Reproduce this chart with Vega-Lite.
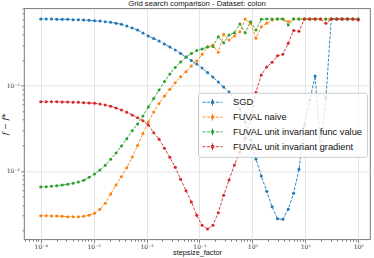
{
"$schema": "https://vega.github.io/schema/vega-lite/v6.json",
"width": 346, "height": 231,
"autosize": "none",
"padding": {"left": 24, "top": 8.3, "right": 4, "bottom": 19},
"background": "white",
"config": {
 "view": {"stroke": "#555555", "strokeWidth": 0.8},
 "axis": {"domain": false, "labelFont": "DejaVu Serif", "labelFontSize": 6, "labelColor": "#333333", "tickColor": "#555555", "tickWidth": 0.7, "gridColor": "#dddddd", "gridWidth": 0.8, "titleFont": "Liberation Sans", "titleFontWeight": "normal", "titleColor": "#111111", "labelOverlap": false, "labelFlush": false}
},
"title": {"text": "Grid search comparison - Dataset: colon", "font": "Liberation Sans", "fontSize": 7.7, "fontWeight": "normal", "anchor": "middle", "offset": 1.5, "baseline": "bottom", "dy": 11.5, "color": "#111111"},
"data": {"values": [
{"method":"SGD","stepsize":0.0001,"gap":0.605},
{"method":"SGD","stepsize":0.00012638,"gap":0.605},
{"method":"SGD","stepsize":0.00015973,"gap":0.605},
{"method":"SGD","stepsize":0.00020187,"gap":0.6004},
{"method":"SGD","stepsize":0.00025514,"gap":0.6004},
{"method":"SGD","stepsize":0.00032246,"gap":0.6004},
{"method":"SGD","stepsize":0.00040754,"gap":0.594},
{"method":"SGD","stepsize":0.00051506,"gap":0.594},
{"method":"SGD","stepsize":0.00065097,"gap":0.5892},
{"method":"SGD","stepsize":0.00082271,"gap":0.5844},
{"method":"SGD","stepsize":0.0010398,"gap":0.5782},
{"method":"SGD","stepsize":0.0013141,"gap":0.5735},
{"method":"SGD","stepsize":0.0016608,"gap":0.5628},
{"method":"SGD","stepsize":0.0020991,"gap":0.5538},
{"method":"SGD","stepsize":0.0026529,"gap":0.539},
{"method":"SGD","stepsize":0.0033529,"gap":0.5246},
{"method":"SGD","stepsize":0.0042376,"gap":0.5011},
{"method":"SGD","stepsize":0.0053557,"gap":0.4747},
{"method":"SGD","stepsize":0.0067688,"gap":0.4497},
{"method":"SGD","stepsize":0.0085547,"gap":0.4148},
{"method":"SGD","stepsize":0.010812,"gap":0.3825},
{"method":"SGD","stepsize":0.013665,"gap":0.3575},
{"method":"SGD","stepsize":0.01727,"gap":0.3342},
{"method":"SGD","stepsize":0.021827,"gap":0.3083},
{"method":"SGD","stepsize":0.027586,"gap":0.2842},
{"method":"SGD","stepsize":0.034865,"gap":0.2621},
{"method":"SGD","stepsize":0.044064,"gap":0.2385},
{"method":"SGD","stepsize":0.05569,"gap":0.217},
{"method":"SGD","stepsize":0.070384,"gap":0.1974},
{"method":"SGD","stepsize":0.088955,"gap":0.1796},
{"method":"SGD","stepsize":0.11242,"gap":0.1613},
{"method":"SGD","stepsize":0.14208,"gap":0.1428},
{"method":"SGD","stepsize":0.17957,"gap":0.1265},
{"method":"SGD","stepsize":0.22695,"gap":0.1105},
{"method":"SGD","stepsize":0.28682,"gap":0.09655},
{"method":"SGD","stepsize":0.3625,"gap":0.08437},
{"method":"SGD","stepsize":0.45815,"gap":0.06985},
{"method":"SGD","stepsize":0.57903,"gap":0.05332},
{"method":"SGD","stepsize":0.7318,"gap":0.03753},
{"method":"SGD","stepsize":0.92486,"gap":0.02309},
{"method":"SGD","stepsize":1.1689,"gap":0.01383},
{"method":"SGD","stepsize":1.4773,"gap":0.008738},
{"method":"SGD","stepsize":1.8671,"gap":0.005782},
{"method":"SGD","stepsize":2.3598,"gap":0.003815},
{"method":"SGD","stepsize":2.9824,"gap":0.002759},
{"method":"SGD","stepsize":3.7693,"gap":0.002715},
{"method":"SGD","stepsize":4.7638,"gap":0.003556},
{"method":"SGD","stepsize":6.0207,"gap":0.005478},
{"method":"SGD","stepsize":7.6093,"gap":0.01047},
{"method":"SGD","stepsize":9.617,"gap":0.03462},
{"method":"SGD","stepsize":12.155,"gap":0.06798},
{"method":"SGD","stepsize":15.362,"gap":0.1299},
{"method":"SGD","stepsize":19.415,"gap":0.01763},
{"method":"SGD","stepsize":24.538,"gap":0.07175},
{"method":"SGD","stepsize":31.012,"gap":0.605},
{"method":"SGD","stepsize":39.195,"gap":0.605},
{"method":"SGD","stepsize":49.536,"gap":0.605},
{"method":"SGD","stepsize":62.607,"gap":0.605},
{"method":"SGD","stepsize":79.126,"gap":0.605},
{"method":"SGD","stepsize":100,"gap":0.605},
{"method":"FUVAL naive","stepsize":0.0001,"gap":0.002991},
{"method":"FUVAL naive","stepsize":0.00012638,"gap":0.002991},
{"method":"FUVAL naive","stepsize":0.00015973,"gap":0.002967},
{"method":"FUVAL naive","stepsize":0.00020187,"gap":0.002967},
{"method":"FUVAL naive","stepsize":0.00025514,"gap":0.002944},
{"method":"FUVAL naive","stepsize":0.00032246,"gap":0.002912},
{"method":"FUVAL naive","stepsize":0.00040754,"gap":0.002912},
{"method":"FUVAL naive","stepsize":0.00051506,"gap":0.002912},
{"method":"FUVAL naive","stepsize":0.00065097,"gap":0.002944},
{"method":"FUVAL naive","stepsize":0.00082271,"gap":0.003024},
{"method":"FUVAL naive","stepsize":0.0010398,"gap":0.003192},
{"method":"FUVAL naive","stepsize":0.0013141,"gap":0.003556},
{"method":"FUVAL naive","stepsize":0.0016608,"gap":0.004182},
{"method":"FUVAL naive","stepsize":0.0020991,"gap":0.005374},
{"method":"FUVAL naive","stepsize":0.0026529,"gap":0.006853},
{"method":"FUVAL naive","stepsize":0.0033529,"gap":0.008574},
{"method":"FUVAL naive","stepsize":0.0042376,"gap":0.01093},
{"method":"FUVAL naive","stepsize":0.0053557,"gap":0.01459},
{"method":"FUVAL naive","stepsize":0.0067688,"gap":0.01991},
{"method":"FUVAL naive","stepsize":0.0085547,"gap":0.02752},
{"method":"FUVAL naive","stepsize":0.010812,"gap":0.03753},
{"method":"FUVAL naive","stepsize":0.013665,"gap":0.04917},
{"method":"FUVAL naive","stepsize":0.01727,"gap":0.06183},
{"method":"FUVAL naive","stepsize":0.021827,"gap":0.07573},
{"method":"FUVAL naive","stepsize":0.027586,"gap":0.09074},
{"method":"FUVAL naive","stepsize":0.034865,"gap":0.1084},
{"method":"FUVAL naive","stepsize":0.044064,"gap":0.1275},
{"method":"FUVAL naive","stepsize":0.05569,"gap":0.1459},
{"method":"FUVAL naive","stepsize":0.070384,"gap":0.1702},
{"method":"FUVAL naive","stepsize":0.088955,"gap":0.1948},
{"method":"FUVAL naive","stepsize":0.11242,"gap":0.2334},
{"method":"FUVAL naive","stepsize":0.14208,"gap":0.2866},
{"method":"FUVAL naive","stepsize":0.17957,"gap":0.3},
{"method":"FUVAL naive","stepsize":0.22695,"gap":0.2464},
{"method":"FUVAL naive","stepsize":0.28682,"gap":0.4005},
{"method":"FUVAL naive","stepsize":0.3625,"gap":0.3434},
{"method":"FUVAL naive","stepsize":0.45815,"gap":0.3825},
{"method":"FUVAL naive","stepsize":0.57903,"gap":0.4296},
{"method":"FUVAL naive","stepsize":0.7318,"gap":0.605},
{"method":"FUVAL naive","stepsize":0.92486,"gap":0.539},
{"method":"FUVAL naive","stepsize":1.1689,"gap":0.3594},
{"method":"FUVAL naive","stepsize":1.4773,"gap":0.4917},
{"method":"FUVAL naive","stepsize":1.8671,"gap":0.539},
{"method":"FUVAL naive","stepsize":2.3598,"gap":0.5891},
{"method":"FUVAL naive","stepsize":2.9824,"gap":0.605},
{"method":"FUVAL naive","stepsize":3.7693,"gap":0.605},
{"method":"FUVAL naive","stepsize":4.7638,"gap":0.5627},
{"method":"FUVAL naive","stepsize":6.0207,"gap":0.605},
{"method":"FUVAL naive","stepsize":7.6093,"gap":0.605},
{"method":"FUVAL naive","stepsize":9.617,"gap":0.605},
{"method":"FUVAL naive","stepsize":12.155,"gap":0.605},
{"method":"FUVAL naive","stepsize":15.362,"gap":0.605},
{"method":"FUVAL naive","stepsize":19.415,"gap":0.605},
{"method":"FUVAL naive","stepsize":24.538,"gap":0.605},
{"method":"FUVAL naive","stepsize":31.012,"gap":0.605},
{"method":"FUVAL naive","stepsize":39.195,"gap":0.605},
{"method":"FUVAL naive","stepsize":49.536,"gap":0.605},
{"method":"FUVAL naive","stepsize":62.607,"gap":0.605},
{"method":"FUVAL naive","stepsize":79.126,"gap":0.605},
{"method":"FUVAL naive","stepsize":100,"gap":0.605},
{"method":"FUVAL unit invariant func value","stepsize":0.0001,"gap":0.006493},
{"method":"FUVAL unit invariant func value","stepsize":0.00012638,"gap":0.006546},
{"method":"FUVAL unit invariant func value","stepsize":0.00015973,"gap":0.006617},
{"method":"FUVAL unit invariant func value","stepsize":0.00020187,"gap":0.006725},
{"method":"FUVAL unit invariant func value","stepsize":0.00025514,"gap":0.006853},
{"method":"FUVAL unit invariant func value","stepsize":0.00032246,"gap":0.006985},
{"method":"FUVAL unit invariant func value","stepsize":0.00040754,"gap":0.007175},
{"method":"FUVAL unit invariant func value","stepsize":0.00051506,"gap":0.007431},
{"method":"FUVAL unit invariant func value","stepsize":0.00065097,"gap":0.00778},
{"method":"FUVAL unit invariant func value","stepsize":0.00082271,"gap":0.008437},
{"method":"FUVAL unit invariant func value","stepsize":0.0010398,"gap":0.009222},
{"method":"FUVAL unit invariant func value","stepsize":0.0013141,"gap":0.010274},
{"method":"FUVAL unit invariant func value","stepsize":0.0016608,"gap":0.011663},
{"method":"FUVAL unit invariant func value","stepsize":0.0020991,"gap":0.013713},
{"method":"FUVAL unit invariant func value","stepsize":0.0026529,"gap":0.016254},
{"method":"FUVAL unit invariant func value","stepsize":0.0033529,"gap":0.019641},
{"method":"FUVAL unit invariant func value","stepsize":0.0042376,"gap":0.023915},
{"method":"FUVAL unit invariant func value","stepsize":0.0053557,"gap":0.02967},
{"method":"FUVAL unit invariant func value","stepsize":0.0067688,"gap":0.03556},
{"method":"FUVAL unit invariant func value","stepsize":0.0085547,"gap":0.04414},
{"method":"FUVAL unit invariant func value","stepsize":0.010812,"gap":0.05628},
{"method":"FUVAL unit invariant func value","stepsize":0.013665,"gap":0.0708},
{"method":"FUVAL unit invariant func value","stepsize":0.01727,"gap":0.08904},
{"method":"FUVAL unit invariant func value","stepsize":0.021827,"gap":0.112},
{"method":"FUVAL unit invariant func value","stepsize":0.027586,"gap":0.1371},
{"method":"FUVAL unit invariant func value","stepsize":0.034865,"gap":0.1635},
{"method":"FUVAL unit invariant func value","stepsize":0.044064,"gap":0.1896},
{"method":"FUVAL unit invariant func value","stepsize":0.05569,"gap":0.217},
{"method":"FUVAL unit invariant func value","stepsize":0.070384,"gap":0.2384},
{"method":"FUVAL unit invariant func value","stepsize":0.088955,"gap":0.2586},
{"method":"FUVAL unit invariant func value","stepsize":0.11242,"gap":0.2693},
{"method":"FUVAL unit invariant func value","stepsize":0.14208,"gap":0.2842},
{"method":"FUVAL unit invariant func value","stepsize":0.17957,"gap":0.2881},
{"method":"FUVAL unit invariant func value","stepsize":0.22695,"gap":0.3753},
{"method":"FUVAL unit invariant func value","stepsize":0.28682,"gap":0.3192},
{"method":"FUVAL unit invariant func value","stepsize":0.3625,"gap":0.393},
{"method":"FUVAL unit invariant func value","stepsize":0.45815,"gap":0.4182},
{"method":"FUVAL unit invariant func value","stepsize":0.57903,"gap":0.5289},
{"method":"FUVAL unit invariant func value","stepsize":0.7318,"gap":0.4182},
{"method":"FUVAL unit invariant func value","stepsize":0.92486,"gap":0.5627},
{"method":"FUVAL unit invariant func value","stepsize":1.1689,"gap":0.4497},
{"method":"FUVAL unit invariant func value","stepsize":1.4773,"gap":0.6},
{"method":"FUVAL unit invariant func value","stepsize":1.8671,"gap":0.605},
{"method":"FUVAL unit invariant func value","stepsize":2.3598,"gap":0.605},
{"method":"FUVAL unit invariant func value","stepsize":2.9824,"gap":0.605},
{"method":"FUVAL unit invariant func value","stepsize":3.7693,"gap":0.605},
{"method":"FUVAL unit invariant func value","stepsize":4.7638,"gap":0.5148},
{"method":"FUVAL unit invariant func value","stepsize":6.0207,"gap":0.605},
{"method":"FUVAL unit invariant func value","stepsize":7.6093,"gap":0.605},
{"method":"FUVAL unit invariant func value","stepsize":9.617,"gap":0.605},
{"method":"FUVAL unit invariant func value","stepsize":12.155,"gap":0.605},
{"method":"FUVAL unit invariant func value","stepsize":15.362,"gap":0.605},
{"method":"FUVAL unit invariant func value","stepsize":19.415,"gap":0.605},
{"method":"FUVAL unit invariant func value","stepsize":24.538,"gap":0.605},
{"method":"FUVAL unit invariant func value","stepsize":31.012,"gap":0.605},
{"method":"FUVAL unit invariant func value","stepsize":39.195,"gap":0.605},
{"method":"FUVAL unit invariant func value","stepsize":49.536,"gap":0.605},
{"method":"FUVAL unit invariant func value","stepsize":62.607,"gap":0.605},
{"method":"FUVAL unit invariant func value","stepsize":79.126,"gap":0.605},
{"method":"FUVAL unit invariant func value","stepsize":100,"gap":0.605},
{"method":"FUVAL unit invariant gradient","stepsize":0.0001,"gap":0.06493},
{"method":"FUVAL unit invariant gradient","stepsize":0.00012638,"gap":0.06493},
{"method":"FUVAL unit invariant gradient","stepsize":0.00015973,"gap":0.06493},
{"method":"FUVAL unit invariant gradient","stepsize":0.00020187,"gap":0.06493},
{"method":"FUVAL unit invariant gradient","stepsize":0.00025514,"gap":0.06441},
{"method":"FUVAL unit invariant gradient","stepsize":0.00032246,"gap":0.06441},
{"method":"FUVAL unit invariant gradient","stepsize":0.00040754,"gap":0.06389},
{"method":"FUVAL unit invariant gradient","stepsize":0.00051506,"gap":0.06389},
{"method":"FUVAL unit invariant gradient","stepsize":0.00065097,"gap":0.0632},
{"method":"FUVAL unit invariant gradient","stepsize":0.00082271,"gap":0.06269},
{"method":"FUVAL unit invariant gradient","stepsize":0.0010398,"gap":0.06219},
{"method":"FUVAL unit invariant gradient","stepsize":0.0013141,"gap":0.06102},
{"method":"FUVAL unit invariant gradient","stepsize":0.0016608,"gap":0.0594},
{"method":"FUVAL unit invariant gradient","stepsize":0.0020991,"gap":0.05735},
{"method":"FUVAL unit invariant gradient","stepsize":0.0026529,"gap":0.05478},
{"method":"FUVAL unit invariant gradient","stepsize":0.0033529,"gap":0.05189},
{"method":"FUVAL unit invariant gradient","stepsize":0.0042376,"gap":0.04877},
{"method":"FUVAL unit invariant gradient","stepsize":0.0053557,"gap":0.04534},
{"method":"FUVAL unit invariant gradient","stepsize":0.0067688,"gap":0.04216},
{"method":"FUVAL unit invariant gradient","stepsize":0.0085547,"gap":0.03888},
{"method":"FUVAL unit invariant gradient","stepsize":0.010812,"gap":0.03461},
{"method":"FUVAL unit invariant gradient","stepsize":0.013665,"gap":0.02812},
{"method":"FUVAL unit invariant gradient","stepsize":0.01727,"gap":0.02353},
{"method":"FUVAL unit invariant gradient","stepsize":0.021827,"gap":0.01846},
{"method":"FUVAL unit invariant gradient","stepsize":0.027586,"gap":0.014475},
{"method":"FUVAL unit invariant gradient","stepsize":0.034865,"gap":0.011051},
{"method":"FUVAL unit invariant gradient","stepsize":0.044064,"gap":0.007993},
{"method":"FUVAL unit invariant gradient","stepsize":0.05569,"gap":0.005876},
{"method":"FUVAL unit invariant gradient","stepsize":0.070384,"gap":0.004331},
{"method":"FUVAL unit invariant gradient","stepsize":0.088955,"gap":0.003024},
{"method":"FUVAL unit invariant gradient","stepsize":0.11242,"gap":0.002309},
{"method":"FUVAL unit invariant gradient","stepsize":0.14208,"gap":0.00209},
{"method":"FUVAL unit invariant gradient","stepsize":0.17957,"gap":0.002309},
{"method":"FUVAL unit invariant gradient","stepsize":0.22695,"gap":0.003245},
{"method":"FUVAL unit invariant gradient","stepsize":0.28682,"gap":0.005189},
{"method":"FUVAL unit invariant gradient","stepsize":0.3625,"gap":0.007843},
{"method":"FUVAL unit invariant gradient","stepsize":0.45815,"gap":0.011757},
{"method":"FUVAL unit invariant gradient","stepsize":0.57903,"gap":0.01684},
{"method":"FUVAL unit invariant gradient","stepsize":0.7318,"gap":0.024175},
{"method":"FUVAL unit invariant gradient","stepsize":0.92486,"gap":0.03962},
{"method":"FUVAL unit invariant gradient","stepsize":1.1689,"gap":0.08369},
{"method":"FUVAL unit invariant gradient","stepsize":1.4773,"gap":0.1335},
{"method":"FUVAL unit invariant gradient","stepsize":1.8671,"gap":0.1657},
{"method":"FUVAL unit invariant gradient","stepsize":2.3598,"gap":0.1881},
{"method":"FUVAL unit invariant gradient","stepsize":2.9824,"gap":0.2241},
{"method":"FUVAL unit invariant gradient","stepsize":3.7693,"gap":0.2334},
{"method":"FUVAL unit invariant gradient","stepsize":4.7638,"gap":0.3142},
{"method":"FUVAL unit invariant gradient","stepsize":6.0207,"gap":0.4437},
{"method":"FUVAL unit invariant gradient","stepsize":7.6093,"gap":0.4342},
{"method":"FUVAL unit invariant gradient","stepsize":9.617,"gap":0.605},
{"method":"FUVAL unit invariant gradient","stepsize":12.155,"gap":0.605},
{"method":"FUVAL unit invariant gradient","stepsize":15.362,"gap":0.605},
{"method":"FUVAL unit invariant gradient","stepsize":19.415,"gap":0.605},
{"method":"FUVAL unit invariant gradient","stepsize":24.538,"gap":0.539},
{"method":"FUVAL unit invariant gradient","stepsize":31.012,"gap":0.605},
{"method":"FUVAL unit invariant gradient","stepsize":39.195,"gap":0.605},
{"method":"FUVAL unit invariant gradient","stepsize":49.536,"gap":0.605},
{"method":"FUVAL unit invariant gradient","stepsize":62.607,"gap":0.605},
{"method":"FUVAL unit invariant gradient","stepsize":79.126,"gap":0.605},
{"method":"FUVAL unit invariant gradient","stepsize":100,"gap":0.5891}
]},
"encoding": {
 "x": {"field": "stepsize", "type": "quantitative",
  "scale": {"type": "log", "domain": [4.833e-5, 167.2], "nice": false},
  "axis": {"title": "stepsize_factor", "titleFontSize": 7.3, "titleY": 13.5, "titleBaseline": "middle",
   "values": [5e-5,6e-5,7e-5,8e-5,9e-5,1e-4,2e-4,3e-4,4e-4,5e-4,6e-4,7e-4,8e-4,9e-4,1e-3,2e-3,3e-3,4e-3,5e-3,6e-3,7e-3,8e-3,9e-3,1e-2,2e-2,3e-2,4e-2,5e-2,6e-2,7e-2,8e-2,9e-2,0.1,0.2,0.3,0.4,0.5,0.6,0.7,0.8,0.9,1,2,3,4,5,6,7,8,9,10,20,30,40,50,60,70,80,90,100],
   "labelExpr": "abs(log(datum.value)/LN10 - round(log(datum.value)/LN10)) < 0.001 ? '10' + ['⁻⁴','⁻³','⁻²','⁻¹','⁰','¹','²'][round(log(datum.value)/LN10)+4] : ''",
   "labelPadding": 0.5,
   "tickSize": {"condition": {"test": "abs(log(datum.value)/LN10 - round(log(datum.value)/LN10)) < 0.001", "value": 3.5}, "value": 2},
   "gridOpacity": {"condition": {"test": "abs(log(datum.value)/LN10 - round(log(datum.value)/LN10)) < 0.001", "value": 1}, "value": 0}
  }},
 "y": {"field": "gap", "type": "quantitative",
  "scale": {"type": "log", "domain": [0.001582, 0.808], "nice": false},
  "axis": {"title": "f − f*", "titleFont": "DejaVu Serif", "titleFontStyle": "italic", "titleFontSize": 8, "titleX": -19, "titleY": 115.5, "titleBaseline": "middle", "titleAlign": "center", "titleAngle": -90,
   "values": [0.002,0.003,0.004,0.005,0.006,0.007,0.008,0.009,0.01,0.02,0.03,0.04,0.05,0.06,0.07,0.08,0.09,0.1,0.2,0.3,0.4,0.5,0.6,0.7,0.8],
   "labelExpr": "abs(log(datum.value)/LN10 - round(log(datum.value)/LN10)) < 0.001 ? '10' + ['⁻³','⁻²','⁻¹','⁰'][round(log(datum.value)/LN10)+3] : ''",
   "labelPadding": 1,
   "tickSize": {"condition": {"test": "abs(log(datum.value)/LN10 - round(log(datum.value)/LN10)) < 0.001", "value": 3.5}, "value": 2},
   "gridOpacity": {"condition": {"test": "abs(log(datum.value)/LN10 - round(log(datum.value)/LN10)) < 0.001", "value": 1}, "value": 0}
  }},
 "color": {"field": "method", "type": "nominal",
  "scale": {"domain": ["SGD", "FUVAL naive", "FUVAL unit invariant func value", "FUVAL unit invariant gradient"], "range": ["#1f77b4", "#ff7f0e", "#2ca02c", "#d62728"]},
  "legend": {"orient": "none", "legendX": 174, "legendY": 84.5, "title": null,
   "symbolType": "M-2,0L2,0M0,-0.7L0,0.7M-0.24,-0.24L0.24,-0.24L0.24,0.24L-0.24,0.24Z",
   "symbolSize": 100, "symbolOffset": 5, "symbolStrokeWidth": 0.9, "symbolDash": [3, 1.5],
   "labelFont": "Liberation Sans", "labelFontSize": 9.3, "labelColor": "#111111", "labelOffset": 15,
   "fillColor": "rgba(255,255,255,0.8)", "strokeColor": "#cccccc", "cornerRadius": 2, "padding": 4, "rowPadding": 3.8,
   "encode": {"symbols": {"update": {"stroke": {"signal": "scale('color', datum.value)"}, "fill": {"signal": "scale('color', datum.value)"}}}}
  }}
},
"layer": [
 {"mark": {"type": "line", "strokeWidth": 0.9, "strokeDash": [3, 1.5]}},
 {"mark": {"type": "point", "filled": true, "size": 9, "opacity": 1}}
]
}
